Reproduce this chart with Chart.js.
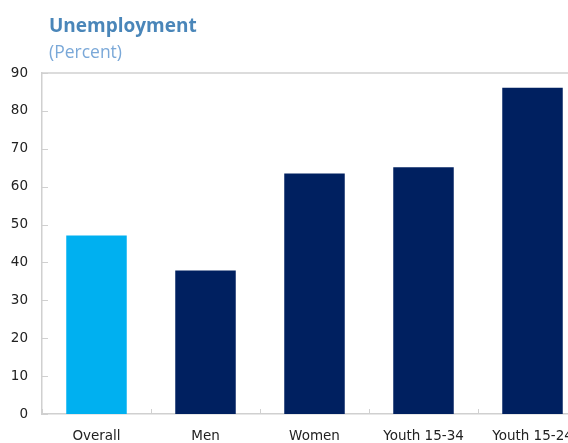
<!DOCTYPE html>
<html>
<head>
<meta charset="utf-8">
<script src="https://cdn.jsdelivr.net/npm/chart.js@4.4.1/dist/chart.umd.min.js"></script>
<style>
  html, body { margin: 0; padding: 0; background: #fff; overflow: hidden; }
  #wrap { position: absolute; left: 0; top: 0; width: 600px; height: 443px; }
</style>
</head>
<body>
<div id="wrap"><canvas id="chart"></canvas></div>
<script>
// Unemployment rate by group (percent)
const categories = ['Overall', 'Men', 'Women', 'Youth 15-34', 'Youth 15-24'];
const unemployment = [47.1, 37.9, 63.5, 65.1, 86.1];
const barColors = ['#00b0f0', '#002060', '#002060', '#002060', '#002060'];
const yTicks = [0, 10, 20, 30, 40, 50, 60, 70, 80, 90];

const titleText = 'Unemployment';
const subtitleText = '(Percent)';

const AXIS_COLOR = '#d0d0d0';

// Heading, plot-area top edge and inward tick marks
const frame = {
  id: 'frame',
  afterDraw(chart) {
    const { ctx, chartArea: a, scales } = chart;
    ctx.save();
    ctx.strokeStyle = AXIS_COLOR;
    ctx.lineWidth = 1.5;
    ctx.beginPath();
    ctx.moveTo(a.left, a.top);
    ctx.lineTo(a.right, a.top);
    ctx.stroke();

    ctx.lineWidth = 1;
    ctx.beginPath();
    scales.y.ticks.forEach(t => {
      const y = Math.round(scales.y.getPixelForValue(t.value)) + 0.5;
      ctx.moveTo(a.left, y);
      ctx.lineTo(a.left + 6, y);
    });
    for (let i = 0; i <= categories.length; i++) {
      const x = Math.round(scales.x.getPixelForValue(i - 0.5)) + 0.5;
      ctx.moveTo(x, a.bottom);
      ctx.lineTo(x, a.bottom - 5);
    }
    ctx.stroke();

    ctx.textAlign = 'left';
    ctx.textBaseline = 'alphabetic';
    ctx.fillStyle = '#4a86b9';
    ctx.font = 'bold 19px "Open Sans", sans-serif';
    ctx.fillText(titleText, 49, 32);
    ctx.fillStyle = '#7aa8d8';
    ctx.font = '17.5px "Open Sans", sans-serif';
    ctx.fillText(subtitleText, 49, 58);
    ctx.restore();
  }
};

new Chart(document.getElementById('chart'), {
  type: 'bar',
  data: {
    labels: categories,
    datasets: [{
      data: unemployment,
      backgroundColor: barColors,
      borderWidth: 0,
      categoryPercentage: 1,
      barPercentage: 0.555
    }]
  },
  options: {
    responsive: true,
    maintainAspectRatio: false,
    animation: false,
    layout: { padding: { top: 73, right: 13, left: 0, bottom: 0 } },
    plugins: { legend: { display: false }, tooltip: { enabled: false } },
    scales: {
      x: {
        grid: { display: false, drawTicks: false },
        border: { display: true, color: AXIS_COLOR, width: 1.5 },
        ticks: {
          color: '#222',
          font: { family: '"DejaVu Sans", sans-serif', size: 13.5 },
          padding: 14,
          maxRotation: 0,
          autoSkip: false
        },
        afterFit(scale) { scale.height = 29; }
      },
      y: {
        min: 0,
        max: 90,
        afterBuildTicks(scale) { scale.ticks = yTicks.map(v => ({ value: v })); },
        grid: { display: false, drawTicks: false },
        border: { display: true, color: AXIS_COLOR, width: 1.5 },
        ticks: {
          color: '#222',
          font: { family: '"DejaVu Sans", sans-serif', size: 13.5 },
          padding: 14
        },
        afterFit(scale) { scale.width = 42; }
      }
    }
  },
  plugins: [frame]
});
</script>
</body>
</html>
